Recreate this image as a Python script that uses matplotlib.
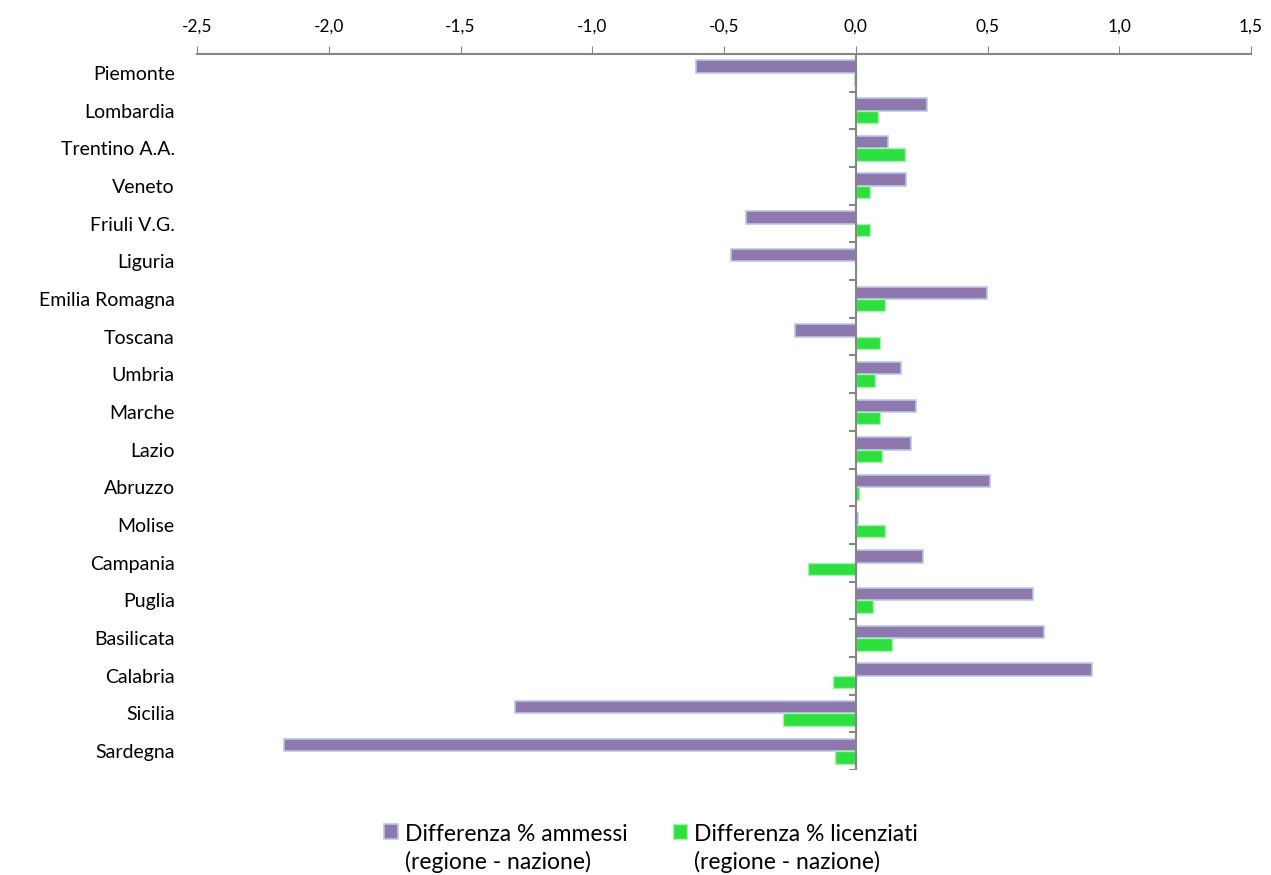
import numpy as np
import matplotlib
matplotlib.use("Agg")
from matplotlib import pyplot as plt

regioni = ['Piemonte', 'Lombardia', 'Trentino A.A.', 'Veneto', 'Friuli V.G.', 'Liguria',
           'Emilia Romagna', 'Toscana', 'Umbria', 'Marche', 'Lazio', 'Abruzzo', 'Molise',
           'Campania', 'Puglia', 'Basilicata', 'Calabria', 'Sicilia', 'Sardegna']
ammessi = [-0.605, 0.27, 0.123, 0.192, -0.415, -0.472, 0.499, -0.229, 0.172, 0.229,
           0.21, 0.51, 0.01, 0.254, 0.672, 0.716, 0.896, -1.295, -2.17]
licenziati = [-0.008, 0.085, 0.188, 0.053, 0.053, 0.002, 0.112, 0.093, 0.073, 0.093,
              0.10, 0.014, 0.112, -0.18, 0.066, 0.138, -0.086, -0.275, -0.078]
xticks = [-2.5, -2.0, -1.5, -1.0, -0.5, 0.0, 0.5, 1.0, 1.5]

plt.rcParams['font.family'] = ['Lato', 'DejaVu Sans']

fig = plt.figure(figsize=(12.71, 8.75), dpi=100)
ax = fig.add_axes([197/1271, 1-770/875, (1251-197)/1271, (770-54)/875])

y = np.arange(len(regioni))
h = 0.33
ax.barh(y - h/2, ammessi, height=h, color='#8E78AE', edgecolor='#B8C8E8', linewidth=1.2,
        label='Differenza % ammessi\n(regione - nazione)', zorder=2)
ax.barh(y + h/2, licenziati, height=h, color='#2EDF40', edgecolor='#A8F0B0', linewidth=1.0,
        label='Differenza % licenziati\n(regione - nazione)', zorder=2)

ax.set_xlim(-2.5, 1.5)
ax.set_ylim(len(regioni) - 0.5, -0.5)
ax.xaxis.tick_top()
ax.set_xticks(xticks)
ax.set_xticklabels([('%.1f' % v).replace('.', ',') for v in xticks], fontsize=12.5)
ax.tick_params(axis='x', direction='out', length=6, color='#868686', pad=8)
ax.set_yticks(y)
ax.set_yticklabels(regioni, fontsize=14)
ax.tick_params(axis='y', length=0, pad=16)

for s in ['left', 'right', 'bottom']:
    ax.spines[s].set_visible(False)
ax.spines['top'].set_color('#868686')
ax.spines['top'].set_linewidth(1.5)

# asse verticale sullo zero con tacche tra le categorie
ax.axvline(0, color='#868686', lw=1.5, zorder=3)
ax.hlines(np.arange(len(regioni) + 1) - 0.5, -0.025, 0, color='#868686', lw=1.5, zorder=3)

leg = ax.legend(loc='upper center', bbox_to_anchor=(0.512, 1 - 808/875),
                bbox_transform=fig.transFigure, ncol=2, frameon=False,
                fontsize=16.5, handlelength=0.6, handleheight=0.6, handletextpad=0.3,
                columnspacing=2.0, borderpad=0.2)
for t in leg.get_texts():
    t.set_linespacing(1.35)
# quadratino allineato alla prima riga
for col in leg._legend_handle_box.get_children():
    for item in col.get_children():
        item.align = 'top'

fig.savefig('out.png', dpi=100)
